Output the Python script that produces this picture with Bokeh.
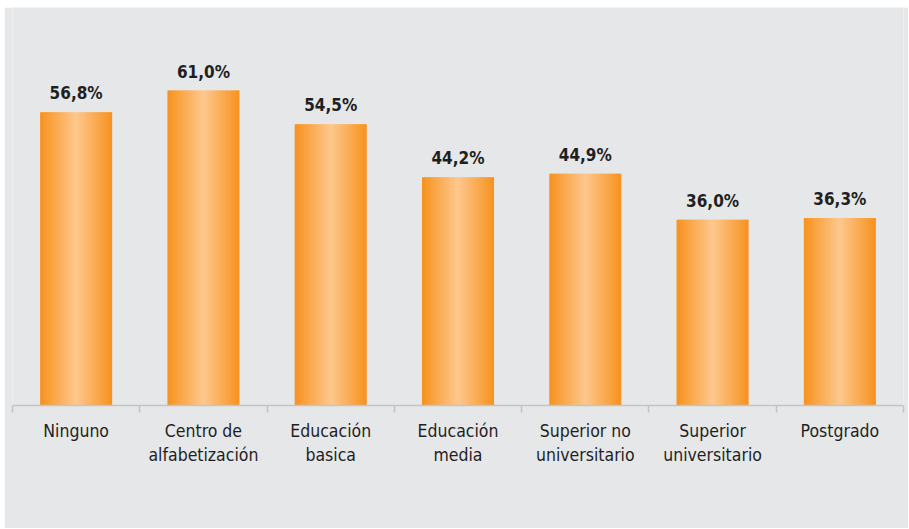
import numpy as np
from bokeh.plotting import figure
from bokeh.models import Range1d, FixedTicker, ColumnDataSource
from bokeh.core.properties import value
from bokeh.embed import file_html
from bokeh.resources import INLINE

# ---- data ----
categories = ["Ninguno", "Centro de\nalfabetización", "Educación\nbasica",
              "Educación\nmedia", "Superior no\nuniversitario",
              "Superior\nuniversitario", "Postgrado"]
values = [56.8, 61.0, 54.5, 44.2, 44.9, 36.0, 36.3]
value_labels = ["56,8%", "61,0%", "54,5%", "44,2%", "44,9%", "36,0%", "36,3%"]

FONT = "DejaVu Sans Condensed, Roboto, sans-serif"
BG = "#E6E7E9"

n = len(categories)
idx = np.arange(n)

p = figure(width=904, height=521, output_backend="svg", toolbar_location=None,
           x_range=Range1d(-0.5, n - 0.5), y_range=Range1d(0, 77.1),
           min_border_left=8, min_border_right=5, min_border_top=0,
           min_border_bottom=123, margin=(7, 0, 0, 4))
p.background_fill_color = BG
p.border_fill_color = BG
p.outline_line_color = None
p.grid.visible = False
p.yaxis.visible = False

# gradient bars built from overlapping vertical strips
W = 0.566
N = 40
w = W / N
edge = np.array([247, 146, 30])
center = np.array([253, 200, 142])
ts = (np.arange(N) + 0.5) / N
cols = []
for t in ts:
    f = 1 - abs(2 * t - 1)
    c = edge + (center - edge) * f
    cols.append("#%02x%02x%02x" % tuple(int(round(v)) for v in c))

k = np.arange(N)
lefts_rel = -W / 2 + k * w
rights_rel = np.minimum(-W / 2 + (k + 1.7) * w, W / 2)
src = ColumnDataSource(dict(
    left=np.repeat(idx, N) + np.tile(lefts_rel, n),
    right=np.repeat(idx, N) + np.tile(rights_rel, n),
    top=np.repeat(values, N),
    bottom=np.zeros(N * n),
    color=cols * n,
))
p.quad(left="left", right="right", top="top", bottom="bottom",
       fill_color="color", line_color=None, source=src)

# value labels
p.text(x=idx, y=values, text=value_labels, text_align="center",
       text_baseline="alphabetic", y_offset=-19,
       text_font=value(FONT), text_font_size="17px", text_font_style="bold",
       text_color="#1f1f1f")

# x axis
ax = p.xaxis[0]
ax.ticker = FixedTicker(ticks=list(idx), minor_ticks=list(np.arange(n + 1) - 0.5))
ax.major_label_overrides = {int(i): c for i, c in zip(idx, categories)}
ax.major_tick_out = 0
ax.major_tick_in = 0
ax.minor_tick_out = 7
ax.minor_tick_in = 0
ax.minor_tick_line_color = "#C4C4C4"
ax.minor_tick_line_width = 1.5
ax.axis_line_color = "#C4C4C4"
ax.axis_line_width = 1.5
ax.major_label_text_font = FONT
ax.major_label_text_font_size = "17.5px"
ax.major_label_text_color = "#1f1f1f"
ax.major_label_standoff = 8

open("out.html", "w").write(file_html(p, INLINE))
